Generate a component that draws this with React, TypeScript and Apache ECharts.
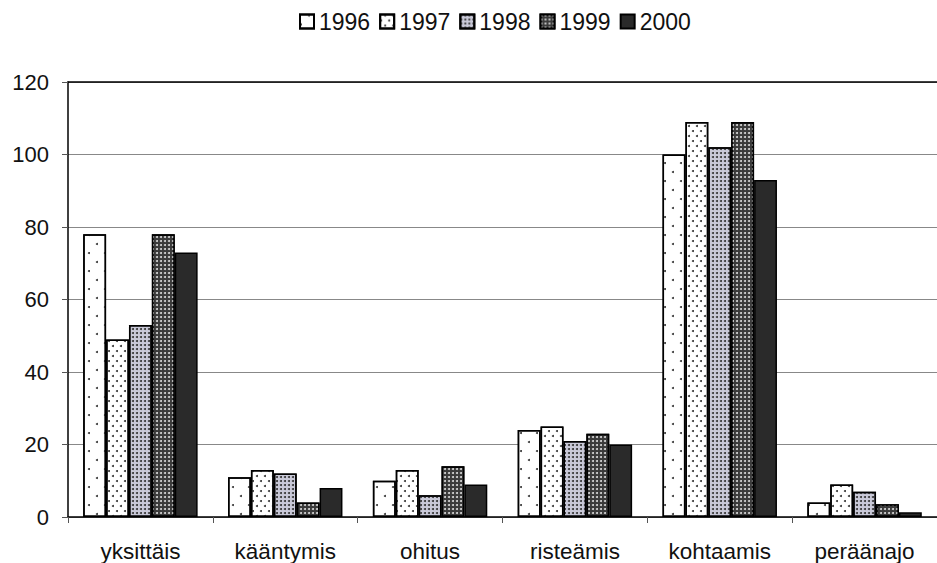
import React, { useEffect, useRef } from "react";
import * as echarts from "echarts";

const categories = ["yksittäis", "kääntymis", "ohitus", "risteämis", "kohtaamis", "peräänajo"];
const years = ["1996", "1997", "1998", "1999", "2000"];
const v1996 = [78, 11, 10, 24, 100, 4];
const v1997 = [49, 13, 13, 25, 109, 9];
const v1998 = [53, 12, 6, 21, 102, 7];
const v1999 = [78, 4, 14, 23, 109, 3.5];
const v2000 = [73, 8, 9, 20, 93, 1.3];
const yTicks = [0, 20, 40, 60, 80, 100, 120];

const seriesData = [v1996, v1997, v1998, v1999, v2000];

const styles = [
  { color: "#ffffff", decal: { symbol: "circle", symbolSize: 1, color: "#333", dashArrayX: [[2, 14], [0, 8, 2, 6]], dashArrayY: [2, 7] } },
  { color: "#ffffff", decal: { symbol: "circle", symbolSize: 1, color: "#333", dashArrayX: [[2, 6], [0, 4, 2, 2]], dashArrayY: [2, 3] } },
  { color: "#c9c9d8", decal: { symbol: "circle", symbolSize: 1, color: "#333", dashArrayX: [2, 2], dashArrayY: [2, 2] } },
  { color: "#3a3a3a", decal: { symbol: "circle", symbolSize: 1, color: "#d8d8d8", dashArrayX: [2, 2], dashArrayY: [2, 2] } },
  { color: "#2a2a2a", decal: null },
];

export default function App() {
  const ref = useRef<HTMLDivElement>(null);
  useEffect(() => {
    const chart = echarts.init(ref.current!, null, { renderer: "svg" });
    chart.setOption({
      animation: false,
      backgroundColor: "#ffffff",
      textStyle: { fontFamily: "Liberation Sans, Arial, sans-serif" },
      legend: {
        top: 5,
        left: 294,
        itemWidth: 14,
        itemHeight: 14,
        itemGap: 9,
        icon: "rect",
        textStyle: { fontSize: 23, color: "#111" },
        data: years,
      },
      grid: { left: 68, right: -1, top: 82, bottom: 46 },
      xAxis: [
        {
          type: "category",
          data: categories,
          axisLine: { lineStyle: { color: "#000", width: 1.5 } },
          axisTick: { show: true, length: 6, lineStyle: { color: "#555" } },
          axisLabel: { fontSize: 22.5, color: "#111", margin: 23 },
        },
        {
          type: "category",
          data: categories,
          position: "top",
          axisLine: { lineStyle: { color: "#000", width: 1.5 } },
          axisTick: { show: false },
          axisLabel: { show: false },
        },
      ],
      yAxis: {
        type: "value",
        min: yTicks[0],
        max: yTicks[yTicks.length - 1],
        interval: 20,
        axisLine: { show: true, lineStyle: { color: "#000", width: 1.5 } },
        axisTick: { show: true, length: 6, lineStyle: { color: "#555" } },
        axisLabel: { fontSize: 22, color: "#111", margin: 19 },
        splitLine: { lineStyle: { color: "#888", width: 1 } },
      },
      series: years.map((y, i) => ({
        name: y,
        type: "bar",
        data: seriesData[i],
        barGap: "0%",
        barCategoryGap: "21%",
        itemStyle: {
          color: styles[i].color,
          borderColor: "#000",
          borderWidth: 1.5,
          ...(styles[i].decal ? { decal: styles[i].decal } : {}),
        },
      })),
    });
    return () => chart.dispose();
  }, []);
  return <div ref={ref} style={{ position: "absolute", left: 0, top: 0, width: 937, height: 563 }} />;
}
